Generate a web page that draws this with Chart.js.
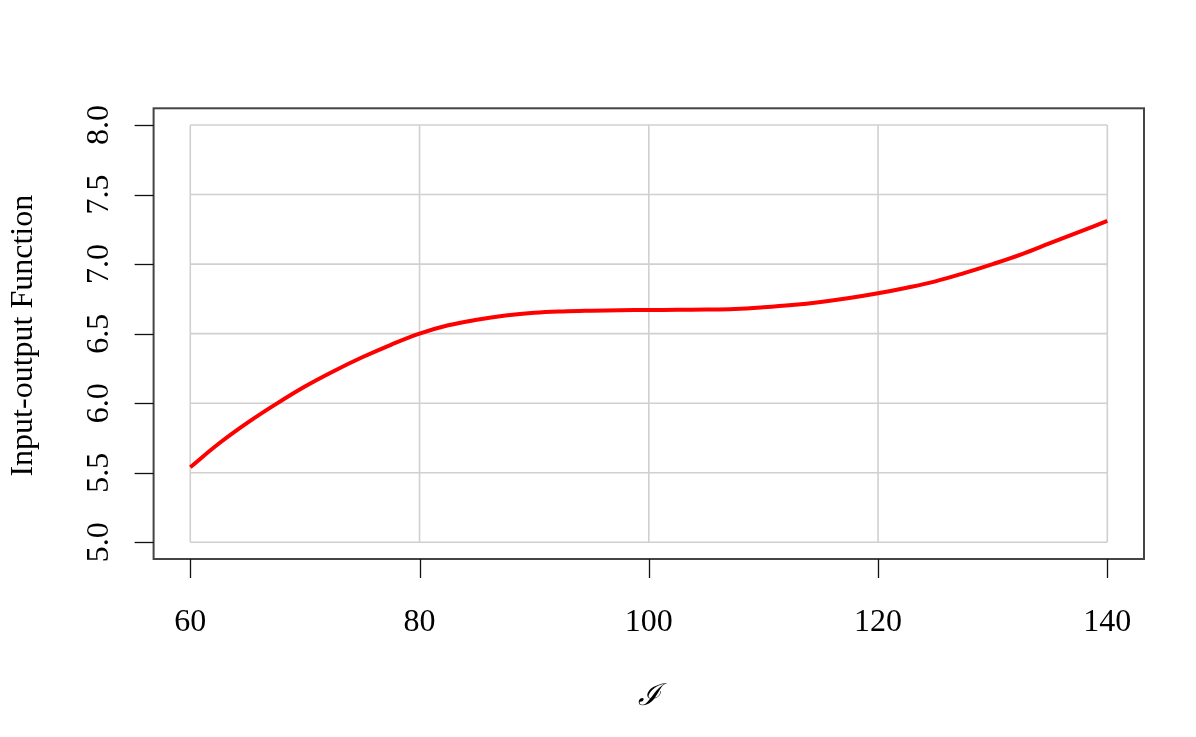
<!DOCTYPE html>
<html>
<head>
<meta charset="utf-8">
<script src="https://cdn.jsdelivr.net/npm/chart.js@4/dist/chart.umd.min.js"></script>
<style>
html,body{margin:0;padding:0;background:#fff;}
#wrap{width:1196px;height:737px;position:relative;}
</style>
</head>
<body>
<div id="wrap"><canvas id="c" width="1196" height="737"></canvas></div>
<script>
// Data
const xValues = [60, 62.5, 65, 67.5, 70, 72.5, 75, 77.5, 80, 82.5, 85, 87.5, 90, 92.5, 95, 97.5, 100,
                 102.5, 105, 107.5, 110, 112.5, 115, 117.5, 120, 122.5, 125, 127.5, 130, 132.5, 135, 137.5, 140];
const yValues = [5.54, 5.71, 5.86, 5.995, 6.12, 6.23, 6.33, 6.42, 6.50, 6.56, 6.60, 6.63, 6.65, 6.66, 6.665, 6.668, 6.670,
                 6.671, 6.673, 6.678, 6.69, 6.706, 6.728, 6.756, 6.79, 6.83, 6.876, 6.935, 7.00, 7.07, 7.15, 7.23, 7.31];
const xTicks = [60, 80, 100, 120, 140];
const yTicks = [5.0, 5.5, 6.0, 6.5, 7.0, 7.5, 8.0];
const xTitle = "\u2110";
const yTitle = "Input-output Function";

const FONT = "'Liberation Serif', 'Times New Roman', serif";

const points = xValues.map((x, i) => ({x: x, y: yValues[i]}));

const framePlugin = {
  id: 'frame',
  beforeDatasetsDraw(chart) {
    const ctx = chart.ctx, xs = chart.scales.x, ys = chart.scales.y;
    const x0 = xs.getPixelForValue(xTicks[0]), x1 = xs.getPixelForValue(xTicks[xTicks.length-1]);
    const y0 = ys.getPixelForValue(yTicks[0]), y1 = ys.getPixelForValue(yTicks[yTicks.length-1]);
    ctx.save();
    ctx.strokeStyle = '#d0d0d0';
    ctx.lineWidth = 1.6;
    xTicks.forEach(t => {
      const p = xs.getPixelForValue(t);
      ctx.beginPath(); ctx.moveTo(p, y0); ctx.lineTo(p, y1); ctx.stroke();
    });
    yTicks.forEach(t => {
      const p = ys.getPixelForValue(t);
      ctx.beginPath(); ctx.moveTo(x0, p); ctx.lineTo(x1, p); ctx.stroke();
    });
    ctx.restore();
  },
  afterDatasetsDraw(chart) {
    const ctx = chart.ctx, xs = chart.scales.x, ys = chart.scales.y, a = chart.chartArea;
    ctx.save();
    ctx.strokeStyle = '#444';
    ctx.lineWidth = 2;
    ctx.strokeRect(a.left, a.top, a.right - a.left, a.bottom - a.top);
    ctx.strokeStyle = '#111';
    ctx.lineWidth = 1.3;
    const tl = 19;
    xTicks.forEach(t => {
      const p = Math.round(xs.getPixelForValue(t)) + 0.5;
      ctx.beginPath(); ctx.moveTo(p, a.bottom); ctx.lineTo(p, a.bottom + tl); ctx.stroke();
    });
    yTicks.forEach(t => {
      const p = Math.round(ys.getPixelForValue(t)) + 0.5;
      ctx.beginPath(); ctx.moveTo(a.left, p); ctx.lineTo(a.left - tl, p); ctx.stroke();
    });
    ctx.fillStyle = '#000';
    ctx.font = "32px " + FONT;
    ctx.textAlign = 'center';
    ctx.textBaseline = 'alphabetic';
    xTicks.forEach(t => {
      ctx.fillText(String(t), xs.getPixelForValue(t), 631);
    });
    yTicks.forEach(t => {
      ctx.save();
      ctx.translate(108, ys.getPixelForValue(t));
      ctx.rotate(-Math.PI / 2);
      ctx.fillText(t.toFixed(1), 0, 0);
      ctx.restore();
    });
    ctx.save();
    ctx.translate(32, (a.top + a.bottom) / 2 + 2);
    ctx.rotate(-Math.PI / 2);
    ctx.fillText(yTitle, 0, 0);
    ctx.restore();
    ctx.font = "italic 30px 'DejaVu Serif', " + FONT;
    ctx.fillText(xTitle, (a.left + a.right) / 2, 705);
    ctx.restore();
  }
};

new Chart(document.getElementById('c'), {
  type: 'line',
  data: {
    datasets: [{
      data: points,
      borderColor: '#ff0000',
      borderWidth: 4,
      pointRadius: 0,
      fill: false,
      tension: 0.4
    }]
  },
  options: {
    responsive: false,
    animation: false,
    devicePixelRatio: 1,
    layout: { padding: { left: 153.6, right: 52, top: 108.3, bottom: 178 } },
    plugins: { legend: { display: false }, tooltip: { enabled: false } },
    scales: {
      x: { type: 'linear', min: 56.8, max: 143.2, display: false },
      y: { type: 'linear', min: 4.88, max: 8.12, display: false }
    }
  },
  plugins: [framePlugin]
});
</script>
</body>
</html>
